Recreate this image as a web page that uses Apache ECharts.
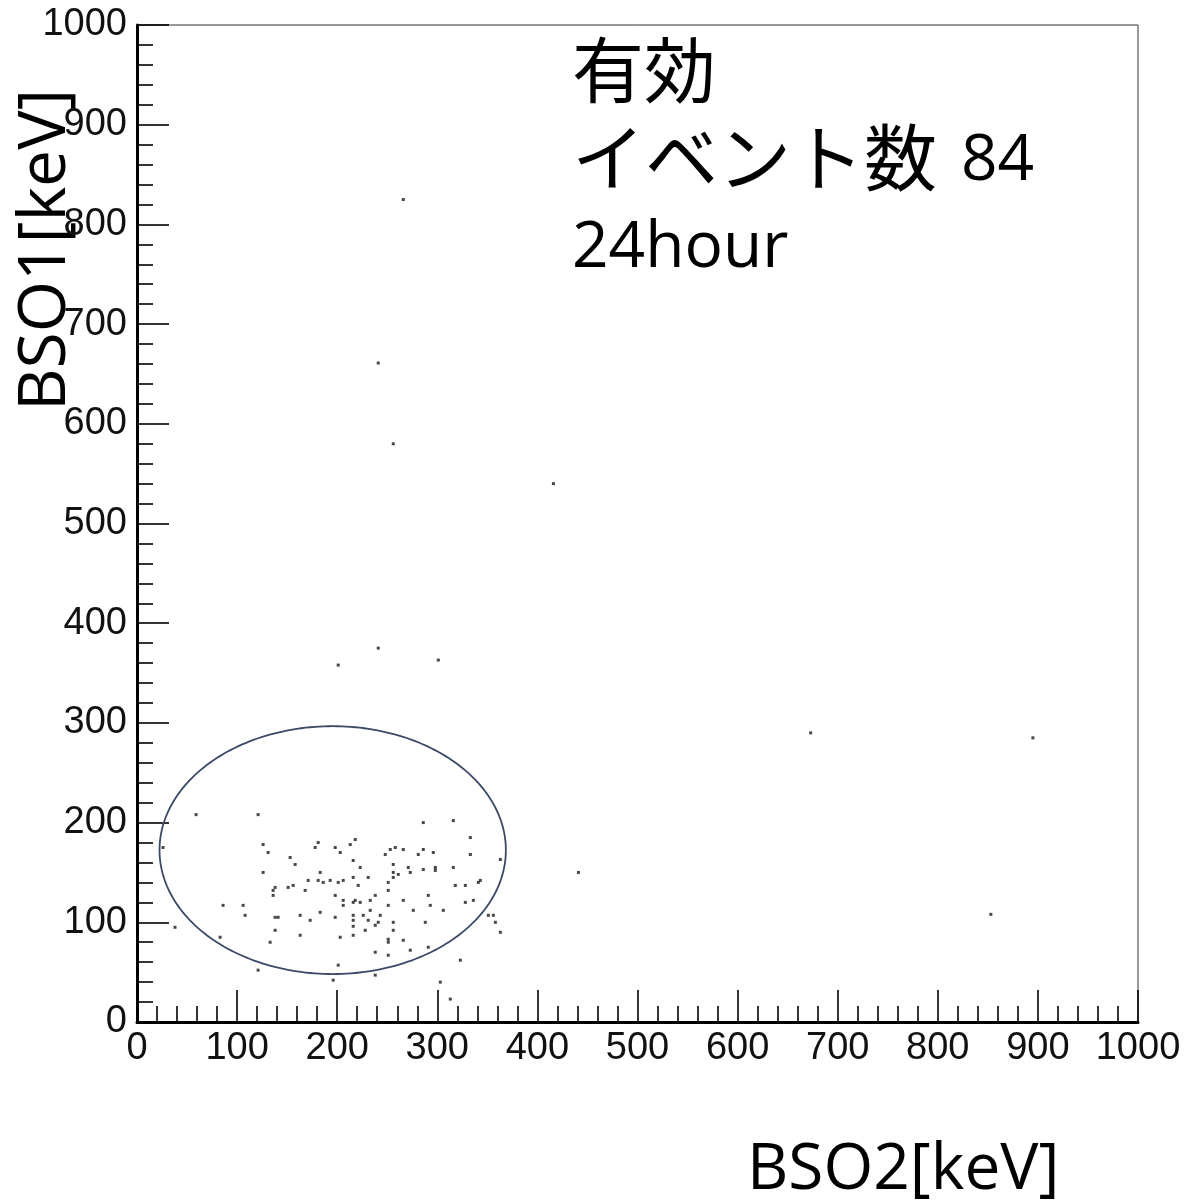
<!DOCTYPE html>
<html>
<head>
<meta charset="utf-8">
<script src="https://cdn.jsdelivr.net/npm/echarts@6/dist/echarts.min.js"></script>
<style>
html,body{margin:0;padding:0;background:#fff;}
#chart{width:1186px;height:1204px;}
</style>
</head>
<body>
<div id="chart"></div>
<script>
// Axis ranges / ticks
const xTicks = [0,100,200,300,400,500,600,700,800,900,1000];
const yTicks = [0,100,200,300,400,500,600,700,800,900,1000];

// Scatter events [BSO2 keV, BSO1 keV]
const clusterA = [
 [59,208],[121,208],[26,175],[126,178],[131,170],[181,180],[178,175],[198,175],[203,170],[213,178],[218,183],
 [153,165],[158,158],[216,162],[223,155],[248,168],[126,150],[183,150],[171,142],[181,142],[186,140],[193,142],
 [201,140],[206,142],[216,145],[221,137],[231,145],[251,140],[138,135],[136,132],[136,127],[151,135],[156,137],
 [168,132],[198,127],[206,122],[206,117],[216,120],[218,122],[223,120],[233,122],[238,127],[233,112],[86,117],
 [106,117],[108,107],[138,105],[141,105],[163,107],[173,102],[183,110],[198,105],[216,107],[216,102],[226,107],
 [231,102],[243,107],[241,100],[238,97],[216,96],[228,92],[216,87],[203,85],[163,87],[138,92],[133,80],[38,95],
 [83,85],[251,83],[251,80],[238,70],[251,67],[201,57],[121,52],[196,42],[238,47]
];
const clusterB = [
 [286,200],[316,202],[333,185],[333,168],[363,163],[253,173],[258,175],[266,173],[281,168],[286,173],[296,170],
 [256,158],[256,150],[261,148],[256,145],[271,155],[273,150],[286,153],[298,155],[298,152],[316,155],[251,132],
 [318,137],[328,137],[341,140],[343,142],[266,122],[291,127],[251,117],[276,112],[293,117],[306,112],[328,120],
 [336,122],[256,100],[256,92],[288,100],[351,107],[356,107],[358,100],[363,90],[266,82],[273,72],[291,75],
 [323,62],[303,40],[313,23]
];
const outliers = [
 [266,825],[241,661],[256,580],[416,540],[201,358],[241,375],[301,363],[673,290],[895,285],[441,150],[853,108]
];
// Hand-drawn ellipse annotation [centerX, centerY, radiusX, radiusY] in keV
const ellipseSpec = [[195.5,172.4,173,124.3]];

const points = clusterA.concat(clusterB, outliers);

const chart = echarts.init(document.getElementById('chart'), null, {renderer:'canvas'});
const labelFont = '"Liberation Sans","Arial",sans-serif';

function axisCommon(){
  return {
    type:'value', min:0, max:1000, interval:100,
    axisLine:{show:true, lineStyle:{color:'#000', width:3}},
    axisTick:{show:true, inside:true, length:32, lineStyle:{color:'#000', width:1.6}},
    minorTick:{show:true, splitNumber:5, length:16, lineStyle:{color:'#000', width:1.6}},
    splitLine:{show:false},
    axisLabel:{color:'#111', fontFamily:labelFont, fontSize:38, margin:8,
      formatter:function(v){return String(v);}}
  };
}

const xAxis = Object.assign(axisCommon(), {position:'bottom'});
xAxis.axisLabel.margin = 8;
const yAxis = Object.assign(axisCommon(), {position:'left'});
yAxis.axisLabel.margin = 10;

chart.setOption({
  animation:false,
  backgroundColor:'#fff',
  grid:{left:137, right:48, top:25, bottom:182, show:true, borderColor:'#333', borderWidth:1, backgroundColor:'transparent'},
  xAxis:xAxis,
  yAxis:yAxis,
  series:[
    {
      type:'scatter',
      data:points,
      symbol:'rect',
      symbolSize:3,
      itemStyle:{color:'#1a1a1a'},
      silent:true
    },
    {
      type:'custom',
      data:ellipseSpec,
      silent:true,
      renderItem:function(params, api){
        const cx = api.value(0), cy = api.value(1), rx = api.value(2), ry = api.value(3);
        const pts = [];
        for(let i=0;i<=240;i++){
          const a = i/240*Math.PI*2;
          pts.push(api.coord([cx + rx*Math.cos(a), cy + ry*Math.sin(a)]));
        }
        return {type:'polyline', shape:{points:pts}, style:{fill:null, stroke:'#3b4a68', lineWidth:1.8}};
      }
    }
  ],
  graphic:[
    {type:'text', x:572, y:70, style:{text:'有効', font:'72px "Noto Sans CJK JP"', fill:'#000', verticalAlign:'middle', align:'left'}},
    {type:'text', x:572, y:157, style:{text:'イベント数', font:'73px "Noto Sans CJK JP"', fill:'#000', verticalAlign:'middle', align:'left'}},
    {type:'text', x:961, y:162, style:{text:'84', font:'64px "Open Sans"', fill:'#000', verticalAlign:'middle', align:'left'}},
    {type:'text', x:572, y:249, style:{text:'24hour', font:'64px "Open Sans"', fill:'#000', verticalAlign:'middle', align:'left'}},
    {type:'text', x:747, y:1171, style:{text:'BSO2[keV]', font:'64px "Open Sans"', fill:'#000', verticalAlign:'middle', align:'left'}},
    {type:'text', x:46, y:250, rotation:Math.PI/2, style:{text:'BSO1[keV]', font:'66px "Open Sans"', fill:'#000', verticalAlign:'middle', align:'center'}}
  ]
});
</script>
</body>
</html>
